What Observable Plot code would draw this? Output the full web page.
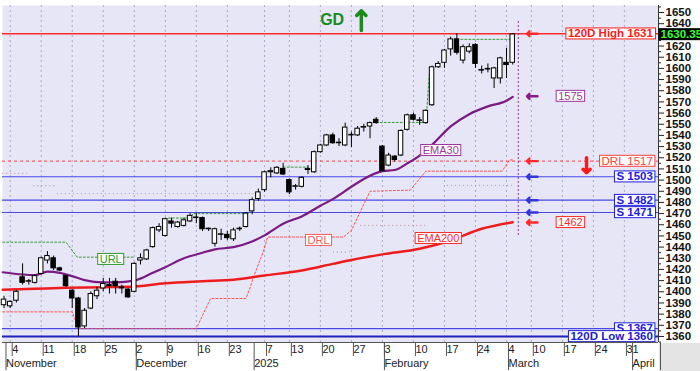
<!DOCTYPE html>
<html><head><meta charset="utf-8">
<script src="https://cdn.jsdelivr.net/npm/d3@7"></script>
<script src="https://cdn.jsdelivr.net/npm/@observablehq/plot@0.6"></script>
<style>
body{margin:0;background:#fff;}
#chart{position:relative;}
#chart svg{display:block;}
#err{position:absolute;left:5px;top:5px;font:10px sans-serif;color:#c00;}
</style></head><body><div id="chart"></div><div id="err"></div>
<script>
// ---- candles (trading-day index, first = Nov 1) ----
const startIdx = -1;
const opens  = [1388,1387,1392,1413,1409,1408,1416,1428,1430,1421,1414,1401,1394,1369,1385,1396,1403,1406,1409,1404,1402,1400,1428,1429,1440,1455,1450,1463,1458,1459,1463,1466,1466,1456,1443,1451,1451,1447,1456,1458,1472,1483,1491,1507,1506,1510,1500,1494,1494,1509,1507,1525,1531,1540,1533,1531,1540,1540,1547,1548,1554,1530,1513,1521,1522,1545,1558,1553,1551,1567,1601,1605,1617,1626,1607,1615,1621,1598,1599,1591,1591,1605,1605];
const highs  = [1396,1392,1401,1425,1411,1415,1431,1436,1432,1422,1415,1402,1395,1385,1400,1404,1412,1412,1412,1406,1403,1426,1434,1438,1458,1461,1466,1466,1463,1466,1470,1470,1467,1457,1457,1456,1454,1457,1458,1471,1484,1492,1508,1511,1512,1515,1501,1496,1503,1513,1526,1532,1541,1542,1537,1551,1543,1548,1550,1552,1556,1531,1524,1522,1545,1559,1560,1556,1563,1602,1606,1617,1628,1631,1621,1622,1622,1602,1604,1601,1610,1618,1631];
const lows   = [1385,1385,1390,1406,1406,1407,1415,1425,1419,1418,1404,1385,1360,1367,1384,1393,1400,1398,1398,1398,1394,1399,1424,1428,1439,1453,1449,1457,1457,1458,1462,1461,1454,1454,1440,1446,1446,1445,1454,1457,1469,1481,1489,1502,1505,1504,1487,1491,1493,1505,1506,1524,1530,1532,1530,1530,1529,1539,1543,1537,1550,1507,1512,1516,1521,1544,1553,1549,1550,1566,1600,1600,1611,1612,1604,1613,1600,1595,1596,1582,1586,1591,1603];
const closes = [1393,1391,1400,1408,1409.5,1414,1430,1432,1421,1419,1405,1394,1368,1383,1398,1401,1407,1405,1405,1403,1395,1425,1430,1437,1457,1458,1465,1461,1462,1464,1468,1466.5,1456,1456.5,1456,1451.5,1448,1455,1456.5,1470,1482,1489,1507,1508,1511,1505,1489,1494.5,1502,1510,1525,1531,1540,1533,1533.5,1547,1540.5,1546,1547.5,1551,1551,1508,1522,1518,1544,1558,1554,1553.5,1562,1601,1604,1616,1626,1614,1619,1619,1604,1598.5,1599.5,1600,1609,1603,1630.35];

// ---- moving averages ----
const ema30Idx = [-1.2,2,4,6,8,10,12,15,17,20,23,25,28,31,33,36,39,41,44,47,50,52,55,57,60,62,64,66,68,71,74,77,80,81];
const ema30Val = [1417.5,1415.5,1415,1418,1417,1414,1410.5,1408.5,1408.5,1410,1417,1422,1430,1435,1438,1440,1445,1450.5,1461,1467.5,1477,1483,1494,1501,1508,1509,1515,1522,1531.5,1548,1559,1566,1571,1574.5];
const ema200Idx = [-1.2,4,9,15,20,25,31,36,41,47,52,55,60,66,71,76,81];
const ema200Val = [1401.8,1402.7,1403.6,1404.1,1404.8,1407.7,1409.5,1410.8,1414.6,1419.1,1425,1428.5,1433.5,1438.5,1445.9,1456.4,1462.3];

// ---- DRL stepped line ----
const drlIdx = [-1.2,10,11,30,32.3,38,38.7,39.2,40.8,41.5,53.7,55,58,64.5,67,79.3,80.5,81];
const drlVal = [1382,1382,1367,1367,1394,1394,1404,1413,1436,1449,1449,1455,1490,1491,1508,1508,1518,1518];

// ---- URL stepped line (segments) ----
const urlSeg = [1,1,1,1, 2,2,2,2, 3,3, 4,4,4, 5,5];
const urlIdx = [-1.2,9,10.8,20, 25.5,29,29.5,38.5, 44,48, 59,67,67.6, 72,80.5];
const urlVal = [1444.4,1444.4,1431,1431, 1466,1466,1470,1470, 1511.6,1511.6, 1551.6,1551.6,1598, 1626,1626];

// ---- faint lower band segments ----
const bandVal  = [1506,1495,1488,1435.5,1459.4,1495.2];
const bandFrom = [-1.2,3.8,7.6,52.1,56.5,70.5];
const bandTo   = [2.8,7.3,39.9,54.8,67.3,81];

// ---- horizontal levels ----
const levelVal  = [1631,1517,1503,1482,1471,1367,1360];
const levelName = ["120D High 1631","DRL 1517","S 1503","S 1482","S 1471","S 1367","120D Low 1360"];
const levelKind = ["high","drl","s","s","s","s","low"];

// ---- arrows pointing to levels ----
const arrowVal  = [1631,1575,1517,1503,1482,1471,1462];
const arrowKind = ["red","purple","red","blue","blue","blue","red"];

// ---- in-chart annotations ----
const annoText = ["URL","DRL","EMA30","EMA200","1575","1462"];
const annoIdx  = [16.2,49.7,69.4,69,90.3,90.3];
const annoVal  = [1429,1446,1526.5,1447.7,1575,1462];
const annoKind = ["green","pink","purple","red","purple","red"];

// ---- axis labels ----
const tickIdx    = [0,5,10,15,20,25,30,35,41,45,50,55,60,65,70,75,80,84,89,94,99];
const tickLabels = ["4","11","18","25","2","9","16","23","7","13","20","27","3","10","17","24","4","10","17","24","31"];
const monthIdx   = [-1,20,39,60,80,100,104.5];
const monthNames = ["November","December","2025","February","March","April",""];
const yTicks = d3.range(1360,1651,10);
const yMinor = d3.range(1355,1656,10);
const lastPrice = 1630.35;
const signalText = "GD";

// ---- build tables ----
const candles = opens.map((o,k)=>({i:startIdx+k, open:o, high:highs[k], low:lows[k], close:closes[k]}));
const ema30 = ema30Idx.map((i,k)=>({i, v:ema30Val[k]}));
const ema200 = ema200Idx.map((i,k)=>({i, v:ema200Val[k]}));
const drl = drlIdx.map((i,k)=>({i, v:drlVal[k]}));
const url = urlIdx.map((i,k)=>({i, v:urlVal[k], seg:urlSeg[k]}));
const band = bandVal.map((v,k)=>({v, a:bandFrom[k], b:bandTo[k]}));
const levels = levelVal.map((v,k)=>({v, name:levelName[k], kind:levelKind[k]}));
const arrows = arrowVal.map((v,k)=>({v, kind:arrowKind[k]}));
const annos = annoText.map((t,k)=>({t, i:annoIdx[k], v:annoVal[k], kind:annoKind[k]}));
const tickMap = new Map(tickIdx.map((d,k)=>[d,tickLabels[k]]));
const monthMap = new Map(monthIdx.map((d,k)=>[d,monthNames[k]]));

const pal = {red:"#ff2a2a", purple:"#8a1a8a", blue:"#3535e0", green:"#2a9a2a", pink:"#ff5a5a"};
const levelColor = {high:"#ff2a2a", drl:"#ff4040", s:"#4848e8", low:"#2222b8"};
const levelText = {high:"#ff1a1a", drl:"#ff4040", s:"#2020e0", low:"#2020d0"};
const annoColor = {green:"#2a9a2a", pink:"#ff5a5a", purple:"#a035a0", red:"#ff2a2a"};

const xMin = -1.24, xMax = 104.5;
const arrowFrom = 85, arrowTo = 83.3;
const labelEnd = 103.6;
const nowIdx = 81.9;

const plot = Plot.plot({
  width: 700, height: 371,
  marginLeft: 2, marginRight: 42, marginTop: 5, marginBottom: 29,
  x: {domain: [xMin, xMax], axis: null},
  y: {domain: [1354.6, 1656.3], axis: null},
  color: {type: "identity"},
  style: {fontFamily: "'Liberation Sans', Arial, sans-serif", fontSize: "11px", background: "white", overflow: "visible"},
  marks: [
    Plot.frame({fill: "#e6e6f7", stroke: null}),
    Plot.ruleX(tickIdx, {stroke: "#a9a9c4", strokeDasharray: "2,3", strokeWidth: 1}),
    Plot.ruleY(band, {y: "v", x1: "a", x2: "b", stroke: "#c09aa8", strokeDasharray: "1,3", strokeWidth: 1.2}),
    Plot.ruleY(levels.filter(d=>d.kind!=="drl"), {y: "v", stroke: d=>levelColor[d.kind], strokeWidth: d=>d.kind==="low"?2:(d.kind==="high"?1.6:1.2)}),
    Plot.ruleY(levels.filter(d=>d.kind==="drl"), {y: "v", stroke: d=>levelColor[d.kind], strokeDasharray: "3,3", strokeWidth: 1}),
    Plot.line(drl, {x: "i", y: "v", stroke: "#ff5050", strokeDasharray: "2,2", strokeWidth: 1}),
    Plot.line(url, {x: "i", y: "v", z: "seg", stroke: "#3a9a3a", strokeDasharray: "2,2", strokeWidth: 1}),
    Plot.line(ema200, {x: "i", y: "v", stroke: "#ee1c1c", strokeWidth: 2.5, curve: "monotone-x"}),
    Plot.line(ema30, {x: "i", y: "v", stroke: "#7a1a82", strokeWidth: 2.2, curve: "monotone-x"}),
    Plot.ruleX([nowIdx], {y1: 1450.4, y2: 1643, stroke: "#8a3a8a", strokeDasharray: "2,2", strokeWidth: 1}),
    Plot.ruleX(candles, {x: "i", y1: "low", y2: "high", stroke: "black", strokeWidth: 1}),
    Plot.rect(candles, {x1: d=>d.i-0.36, x2: d=>d.i+0.36, y1: "open", y2: "close",
      fill: d=>d.close>=d.open?"white":"black", stroke: "black", strokeWidth: 1}),
    Plot.arrow(arrows, {x1: arrowFrom, x2: arrowTo, y1: "v", y2: "v", stroke: d=>pal[d.kind], strokeWidth: 2.4, headLength: 6, headAngle: 90}),
    Plot.arrow([{a:1520, b:1506.5}], {x1: 92.9, x2: 92.9, y1: "a", y2: "b", stroke: "#ff1a1a", strokeWidth: 3.5, headLength: 8, headAngle: 90}),
    Plot.arrow([{a:1634, b:1651.5}], {x1: 56.6, x2: 56.6, y1: "a", y2: "b", stroke: "#1a8a1a", strokeWidth: 3.5, headLength: 9, headAngle: 90}),
    Plot.text([signalText], {x: 51.9, y: 1643, text: d=>d, fill: "#1a8a1a", fontSize: 16, fontWeight: "bold"}),
    Plot.text(annos, {x: "i", y: "v", text: "t", fill: d=>annoColor[d.kind], fontSize: 11}),
    Plot.text(levels.filter(d=>d.kind!=="drl"), {x: labelEnd, y: "v", text: "name", textAnchor: "end", fill: d=>levelText[d.kind], fontWeight: "bold", fontSize: 11.5}),
    Plot.text(levels.filter(d=>d.kind==="drl"), {x: labelEnd, y: "v", text: "name", textAnchor: "end", fill: d=>levelText[d.kind], fontSize: 11.5}),
    Plot.ruleX([xMax], {stroke: "#333"}),
    Plot.ruleY([1354.6], {stroke: "#555"}),
    Plot.axisY(yMinor, {anchor: "right", tickSize: 2, tickFormat: () => "", stroke: "#222"}),
    Plot.axisY(yTicks, {anchor: "right", tickSize: 5, tickPadding: 2, tickFormat: d => String(d), fontWeight: "bold", fontSize: 11.5, fill: "#111", stroke: "#222"}),
    Plot.axisX(tickIdx, {anchor: "bottom", tickSize: 14, tickPadding: -11.5, textAnchor: "start", dx: 2, tickFormat: d=>tickMap.get(d), fill: "#222", stroke: "#555"}),
    Plot.axisX(monthIdx, {anchor: "bottom", tickSize: 28, tickPadding: -11.5, textAnchor: "start", dx: 2, tickFormat: d=>monthMap.get(d), fill: "#222", stroke: "#555"}),
    Plot.text([lastPrice], {x: xMax, y: d=>d, text: d=>d.toFixed(2), dx: 2, textAnchor: "start", fill: "#33ff33", fontWeight: "bold", fontSize: 11.5})
  ]
});

document.getElementById("chart").append(plot);

const svgNS = "http://www.w3.org/2000/svg";
const boxed = new Set([...annoText, ...levelName]);
const priceStr = lastPrice.toFixed(2);
try {
  plot.querySelectorAll("text").forEach(t => {
    const s = t.textContent;
    const isBox = boxed.has(s), isPrice = s === priceStr;
    if (!isBox && !isPrice) return;
    const bb = t.getBBox();
    const r = document.createElementNS(svgNS, "rect");
    const px = isPrice ? 2 : 2, py = isPrice ? 0 : -0.5;
    r.setAttribute("x", bb.x - px);
    r.setAttribute("y", bb.y - py);
    r.setAttribute("width", bb.width + 2*px);
    r.setAttribute("height", bb.height + 2*py);
    const tf = t.getAttribute("transform");
    if (tf) r.setAttribute("transform", tf);
    const col = getComputedStyle(t).fill;
    r.setAttribute("fill", isPrice ? "black" : "white");
    r.setAttribute("stroke", isPrice ? "none" : col);
    r.setAttribute("stroke-width", "1");
    t.parentNode.insertBefore(r, t);
  });
  const xs = plot.scale("x"), ys = plot.scale("y");
  const corner = document.createElementNS(svgNS, "rect");
  corner.setAttribute("x", xs.range[1] + 1);
  corner.setAttribute("y", ys.range[0] + 1);
  corner.setAttribute("width", 700 - xs.range[1]);
  corner.setAttribute("height", 371 - ys.range[0]);
  corner.setAttribute("fill", "#e4e4e4");
  plot.insertBefore(corner, plot.firstChild);
} catch (e) {
  document.getElementById("err").textContent = "ERR: " + e.message;
}
</script>
</body></html>
